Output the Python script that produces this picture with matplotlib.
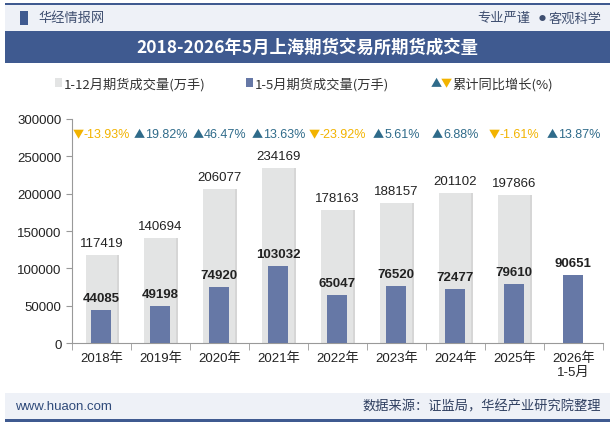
import matplotlib.pyplot as plt
from matplotlib.patches import Rectangle
import numpy as np

plt.rcParams['font.family'] = ['Liberation Sans', 'Noto Sans CJK SC', 'DejaVu Sans']

# dados do gráfico
anos = ['2018年', '2019年', '2020年', '2021年', '2022年', '2023年', '2024年', '2025年', '2026年\n1-5月']
volume_anual = [117419, 140694, 206077, 234169, 178163, 188157, 201102, 197866, 0]
volume_jan_mai = [44085, 49198, 74920, 103032, 65047, 76520, 72477, 79610, 90651]
crescimento = [-13.93, 19.82, 46.47, 13.63, -23.92, 5.61, 6.88, -1.61, 13.87]

cor_cinza = '#E3E4E4'
cor_azul = '#6678A6'
cor_sobe = '#2F6B8A'
cor_desce = '#F2B300'
cor_titulo = '#3F5A90'
cjk = ['Noto Sans CJK SC', 'DejaVu Sans']

fig = plt.figure(figsize=(6.15, 4.27), dpi=100)
fig.patch.set_facecolor('white')

# cabeçalho
fig.patches.append(Rectangle((0.008, 0.925), 0.984, 0.063, transform=fig.transFigure,
                             facecolor='#EEF1F7', edgecolor='none'))
fig.patches.append(Rectangle((0.008, 0.986), 0.984, 0.004, transform=fig.transFigure,
                             facecolor=cor_titulo, edgecolor='none'))
fig.patches.append(Rectangle((0.008, 0.85), 0.984, 0.075, transform=fig.transFigure,
                             facecolor=cor_titulo, edgecolor='none'))
fig.patches.append(Rectangle((0.033, 0.94), 0.012, 0.032, transform=fig.transFigure,
                             facecolor=cor_titulo, edgecolor='none'))
fig.text(0.062, 0.956, '华经情报网', fontsize=9.5, color='#3F4F70', va='center', family=cjk)
fig.text(0.862, 0.956, '专业严谨', fontsize=9.5, color='#3F4F70', va='center', ha='right', family=cjk)
fig.text(0.881, 0.956, '●', fontsize=5, color='#3F4F70', va='center', ha='center', family=cjk)
fig.text(0.978, 0.956, '客观科学', fontsize=9.5, color='#3F4F70', va='center', ha='right', family=cjk)
fig.text(0.5, 0.888, '2018-2026年5月上海期货交易所期货成交量', fontsize=12.5, color='white',
         weight='bold', ha='center', va='center', family=cjk)

# rodapé
fig.patches.append(Rectangle((0.008, 0.016), 0.984, 0.062, transform=fig.transFigure,
                             facecolor='#EEF1F7', edgecolor='none'))
fig.patches.append(Rectangle((0.008, 0.01), 0.984, 0.006, transform=fig.transFigure,
                             facecolor=cor_titulo, edgecolor='none'))
fig.text(0.025, 0.046, 'www.huaon.com', fontsize=9.5, color='#2F4A7A', va='center')
fig.text(0.978, 0.046, '数据来源：证监局，华经产业研究院整理', fontsize=9.5, color='#2F3F60',
         va='center', ha='right', family=cjk)

# legenda
fig.patches.append(Rectangle((0.089, 0.794), 0.011, 0.022, transform=fig.transFigure,
                             facecolor=cor_cinza, edgecolor='none'))
fig.text(0.104, 0.802, '1-12月期货成交量(万手)', fontsize=9.5, color='#333333', va='center', family=cjk)
fig.patches.append(Rectangle((0.400, 0.794), 0.011, 0.022, transform=fig.transFigure,
                             facecolor=cor_azul, edgecolor='none'))
fig.text(0.415, 0.802, '1-5月期货成交量(万手)', fontsize=9.5, color='#333333', va='center', family=cjk)
fig.text(0.700, 0.802, '▲', fontsize=8, color=cor_sobe, va='center', family=cjk)
fig.text(0.717, 0.802, '▼', fontsize=8, color=cor_desce, va='center', family=cjk)
fig.text(0.735, 0.802, '累计同比增长(%)', fontsize=9.5, color='#333333', va='center', family=cjk)

# gráfico
ax = fig.add_axes([0.117, 0.194, 0.863, 0.525])
x = np.arange(len(anos))

ax.bar(x + 0.035, volume_anual, width=0.54, color='#D6D6D6', zorder=1)
ax.bar(x, volume_anual, width=0.54, color=cor_cinza, zorder=2)
ax.bar(x, volume_jan_mai, width=0.34, color=cor_azul, zorder=3)

rotulos_cresc = []
for i in range(len(anos)):
    if volume_anual[i] > 0:
        ax.text(x[i], volume_anual[i] + 16000, str(volume_anual[i]), ha='center', va='center',
                fontsize=9.5, color='#222222')
    ax.text(x[i], volume_jan_mai[i] + 16000, str(volume_jan_mai[i]), ha='center', va='center',
            fontsize=9.5, color='#222222', weight='bold')
    if crescimento[i] >= 0:
        tri, cor = '▲', cor_sobe
    else:
        tri, cor = '▼', cor_desce
    t1 = ax.text(x[i], 280000, tri, ha='left', va='center', fontsize=8, color=cor, family=cjk)
    t2 = ax.text(x[i], 280000, f'{crescimento[i]:.2f}%', ha='left', va='center', fontsize=9, color=cor)
    rotulos_cresc.append((x[i], t1, t2))

ax.set_xlim(-0.5, len(anos) - 0.5)
ax.set_ylim(0, 300000)
ax.set_yticks(np.arange(0, 300001, 50000))
ax.tick_params(axis='y', labelsize=9.5, colors='#222222', length=4, color='#999999')
ax.set_xticks(x)
ax.set_xticklabels(anos, fontsize=9.5, color='#222222')
ax.set_xticks(np.arange(-0.5, len(anos), 1), minor=True)
ax.tick_params(axis='x', which='major', length=0, pad=6)
ax.tick_params(axis='x', which='minor', length=5, color='#999999')

for lado in ['top', 'right']:
    ax.spines[lado].set_visible(False)
ax.spines['left'].set_color('#999999')
ax.spines['bottom'].set_color('#999999')
ax.set_facecolor('none')

# centraliza triângulo + número juntos
fig.canvas.draw()
renderer = fig.canvas.get_renderer()
inv = ax.transData.inverted()
for xc, t1, t2 in rotulos_cresc:
    w1 = t1.get_window_extent(renderer).width
    w2 = t2.get_window_extent(renderer).width
    cx, cy = ax.transData.transform((xc, 280000))
    esq = cx - (w1 + w2) / 2
    t1.set_position(inv.transform((esq, cy)))
    t2.set_position(inv.transform((esq + w1, cy)))

plt.savefig('out.png', dpi=100)
